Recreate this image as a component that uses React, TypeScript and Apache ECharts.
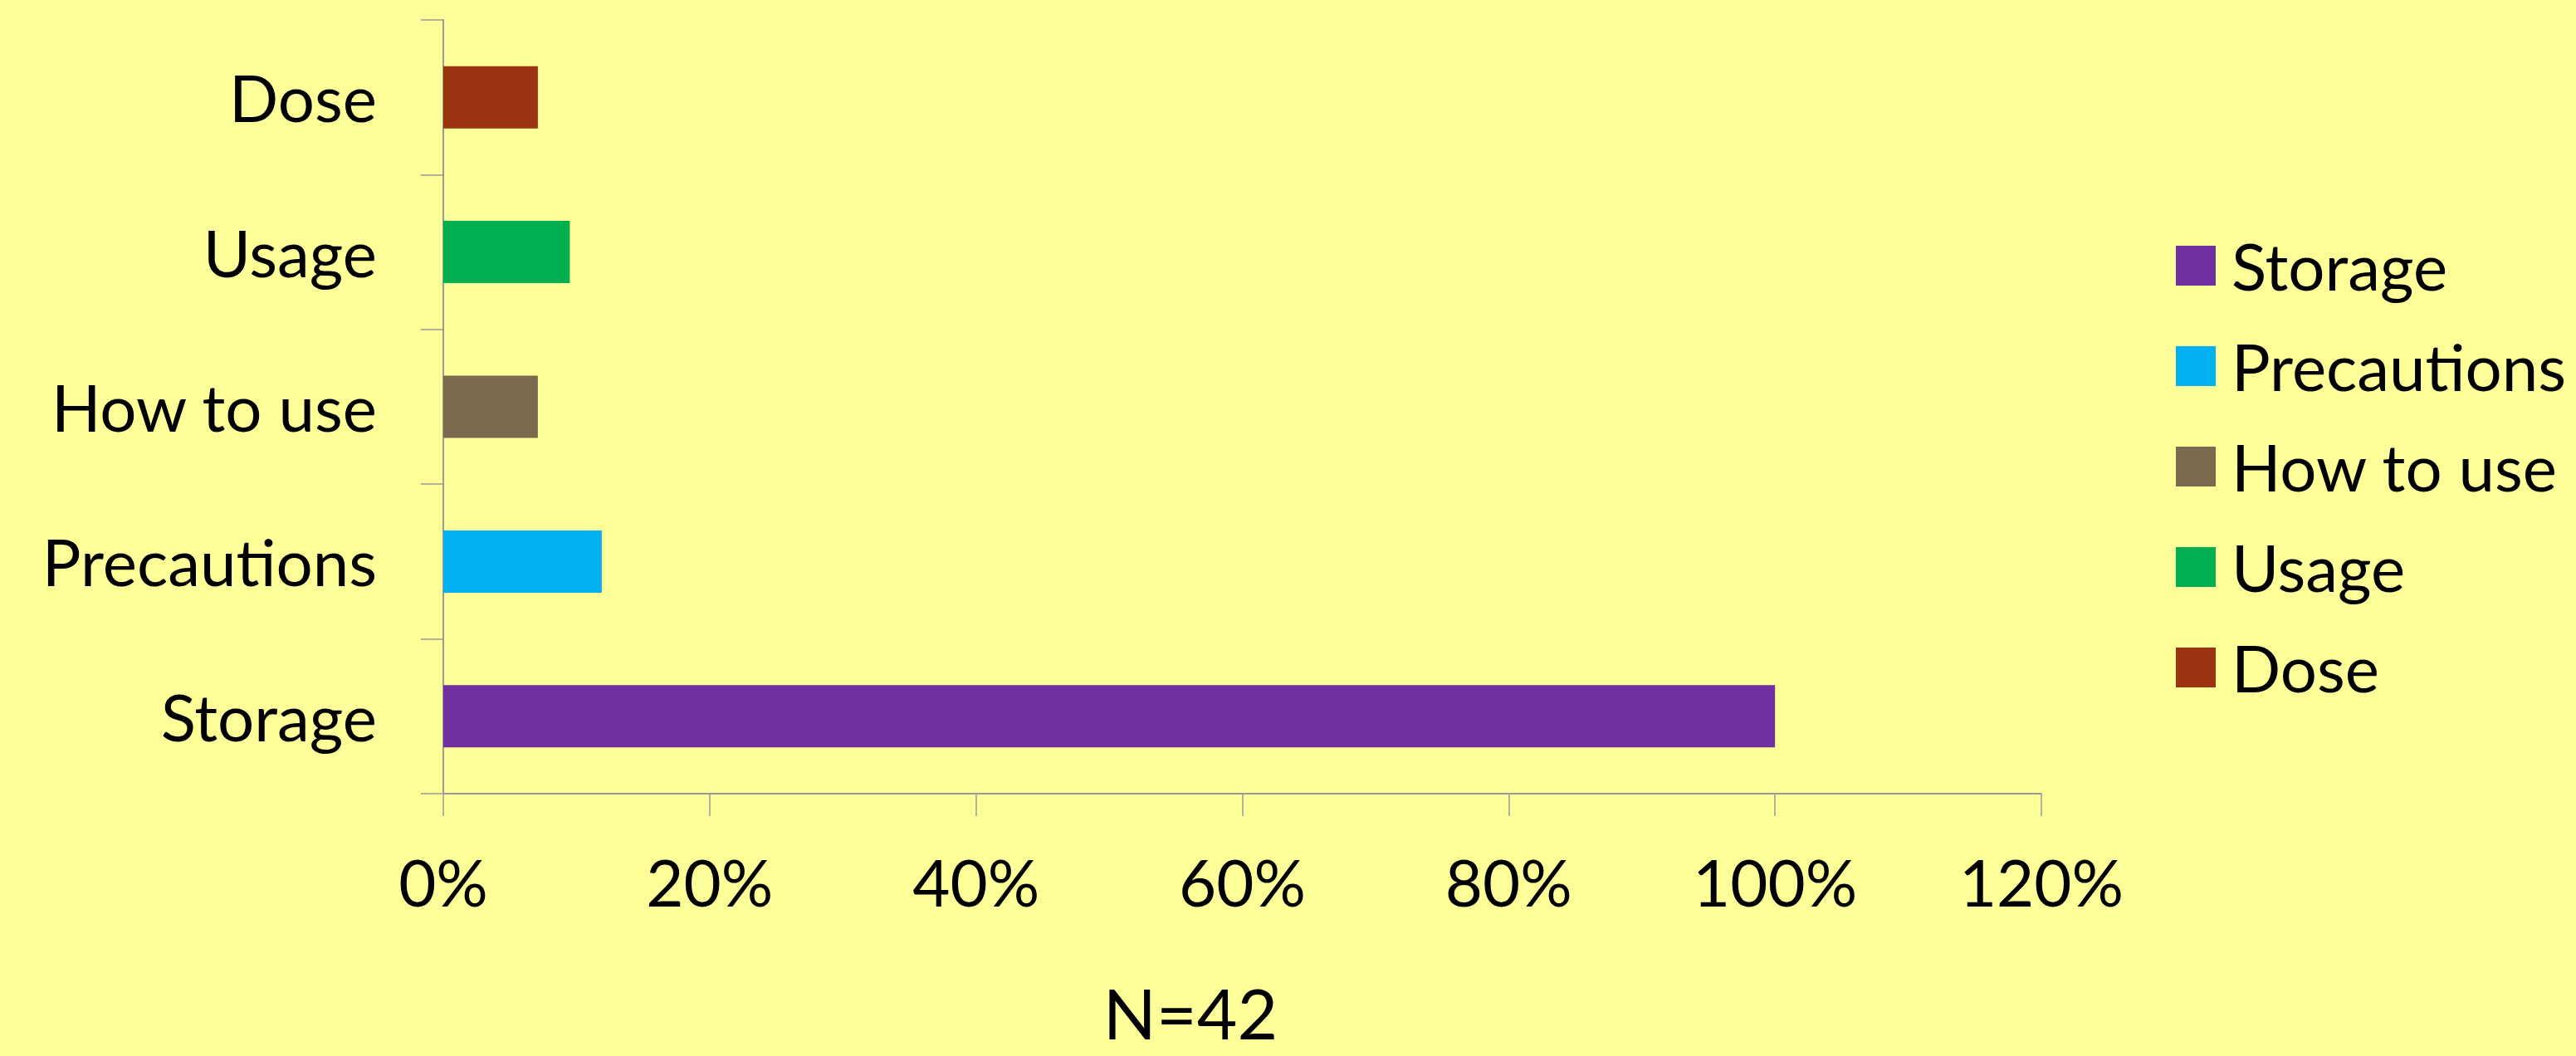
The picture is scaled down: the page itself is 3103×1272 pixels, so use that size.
import React, { useEffect, useRef } from "react";
import * as echarts from "echarts";

const categories = ["Storage", "Precautions", "How to use", "Usage", "Dose"];
const values = [100, 11.9, 7.1, 9.5, 7.1];
const colors = ["#7030A0", "#00B0F0", "#7B6A4D", "#00B050", "#9C3413"];
const xTicks = { min: 0, max: 120, interval: 20 };
const note = "N=42";

const FONT = "Lato";

export default function App() {
  const ref = useRef<HTMLDivElement>(null);
  useEffect(() => {
    if (!ref.current) return;
    const chart = echarts.init(ref.current, undefined, { renderer: "svg" });
    const series = categories.map((name, i) => ({
      name,
      type: "bar",
      stack: "all",
      barWidth: 75,
      itemStyle: { color: colors[i] },
      data: categories.map((_, j) => (j === i ? values[i] : null)),
    }));
    chart.setOption({
      animation: false,
      backgroundColor: "#FFFF99",
      textStyle: { fontFamily: FONT },
      grid: { left: 534, right: 644, top: 24, bottom: 316, containLabel: false },
      xAxis: {
        type: "value",
        min: xTicks.min,
        max: xTicks.max,
        interval: xTicks.interval,
        splitLine: { show: false },
        axisLine: { show: true, lineStyle: { color: "#9a9a9a", width: 2 } },
        axisTick: { show: true, length: 27, lineStyle: { color: "#9a9a9a", width: 1.5 } },
        axisLabel: {
          formatter: "{value}%",
          color: "#000",
          fontFamily: FONT,
          fontSize: 78,
          margin: 106,
          verticalAlign: "middle",
        },
      },
      yAxis: {
        type: "category",
        data: categories,
        axisLine: { show: true, lineStyle: { color: "#9a9a9a", width: 2 } },
        axisTick: { show: true, length: 27, lineStyle: { color: "#9a9a9a", width: 1.5 } },
        axisLabel: {
          color: "#000",
          fontFamily: FONT,
          fontSize: 78,
          margin: 80,
        },
      },
      legend: {
        orient: "vertical",
        left: 2616,
        top: 276,
        itemWidth: 48,
        itemHeight: 48,
        itemGap: 43,
        icon: "rect",
        data: categories,
        textStyle: {
          color: "#000",
          fontFamily: FONT,
          fontSize: 78,
          padding: [0, 0, 0, 14],
        },
      },
      graphic: [
        {
          type: "text",
          x: 1434,
          y: 1219,
          style: {
            text: note,
            fontFamily: FONT,
            fontSize: 84,
            lineHeight: 84,
            fill: "#000",
            textAlign: "center",
            textVerticalAlign: "middle",
          },
        },
      ],
      series,
    });
    return () => chart.dispose();
  }, []);
  return (
    <div
      ref={ref}
      style={{ position: "fixed", left: 0, top: 0, width: 3103, height: 1272 }}
    />
  );
}
